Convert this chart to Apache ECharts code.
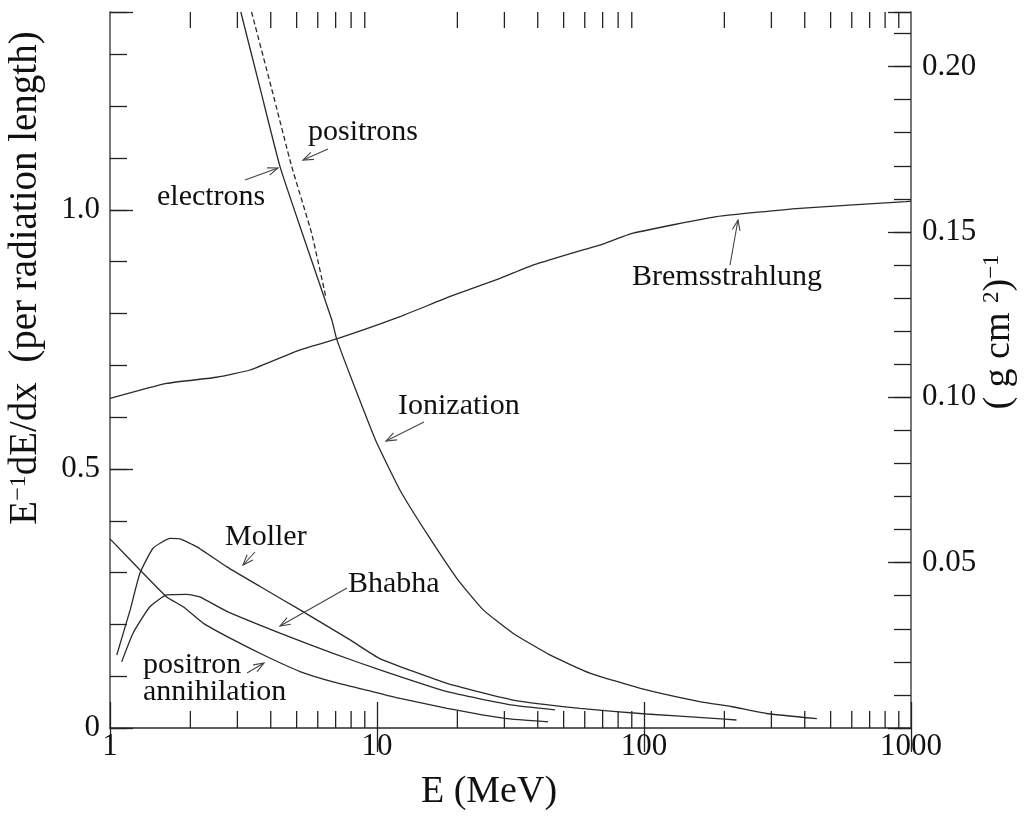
<!DOCTYPE html>
<html><head><meta charset="utf-8">
<script src="https://cdn.jsdelivr.net/npm/echarts@6/dist/echarts.min.js"></script>
<style>html,body{margin:0;padding:0;background:#fff}#c{width:1030px;height:819px}</style>
</head><body><div id="c"></div>
<script>
// ---------------- data ----------------
const xTickValues = [1, 10, 100, 1000];
const xTickLabels = ['1', '10', '100', '1000'];
const xMinorTickValues = [2,3,4,5,6,7,8,9, 20,30,40,50,60,70,80,90, 200,300,400,500,600,700,800,900];
const leftTickValues = [0, 0.5, 1.0];
const leftTickLabels = ['0', '0.5', '1.0'];
const rightTickValues = [0.05, 0.10, 0.15, 0.20];
const rightTickLabels = ['0.05', '0.10', '0.15', '0.20'];

const bremsE = [1, 1.63, 2.51, 3.34, 5.15, 7.06, 12.2, 18.8, 28.9, 38.6, 59.1, 68.4, 91, 187, 383, 957, 1000];
const bremsV = [0.636, 0.665, 0.677, 0.691, 0.730, 0.751, 0.794, 0.833, 0.868, 0.894, 0.923, 0.932, 0.955, 0.987, 1.003, 1.016, 1.017];

const ionElecE = [3.09, 3.66, 4.33, 5.25, 6.77, 7.06, 7.93, 9.91, 12.2, 15.34, 19.9, 25.0, 32.3, 44.4, 62.7, 96.9, 161.6, 214, 287, 444];
const ionElecV = [1.382, 1.232, 1.084, 0.955, 0.788, 0.751, 0.681, 0.554, 0.459, 0.376, 0.289, 0.228, 0.183, 0.141, 0.106, 0.0766, 0.051, 0.041, 0.028, 0.018];

const ionPosE = [3.39, 4.04, 4.79, 5.69, 6.45];
const ionPosV = [1.382, 1.232, 1.084, 0.955, 0.829];

const mollerE = [1.06, 1.19, 1.295, 1.45, 1.68, 1.83, 2.11, 2.74, 3.65, 5.15, 7.93, 10.25, 18.3, 32.3, 57.6, 102, 182, 222];
const mollerV = [0.141, 0.228, 0.299, 0.347, 0.366, 0.365, 0.350, 0.311, 0.273, 0.228, 0.170, 0.134, 0.086, 0.054, 0.038, 0.027, 0.0187, 0.0154];

const bhabhaE = [1.106, 1.22, 1.41, 1.63, 1.94, 2.17, 2.74, 4.33, 6.85, 10.25, 18.3, 32.3, 46.4];
const bhabhaV = [0.128, 0.183, 0.234, 0.257, 0.258, 0.253, 0.225, 0.183, 0.144, 0.112, 0.070, 0.044, 0.035];

const annihE = [1, 1.295, 1.63, 1.88, 2.24, 2.90, 3.86, 5.15, 6.85, 9.14, 12.2, 18.3, 30.1, 43.7];
const annihV = [0.365, 0.305, 0.253, 0.234, 0.202, 0.170, 0.138, 0.109, 0.089, 0.073, 0.057, 0.038, 0.0187, 0.012];

// ---------------- styling ----------------
const FONT = '"Liberation Serif", "DejaVu Serif", serif';
const TXT = '#111';
const LINE = '#2a2a2a';
const FRAME = '#555';
const TICK = '#222';
const pairs = (xs, ys) => xs.map((x, i) => [x, ys[i]]);
const pick = (vals, labs) => v => { const i = vals.findIndex(t => Math.abs(t - v) < 1e-6); return i >= 0 ? labs[i] : ''; };

const chart = echarts.init(document.getElementById('c'), null, {renderer: 'canvas'});

function lineSeries(name, xs, ys, dashed) {
  return {
    name, type: 'line', xAxisIndex: 0, yAxisIndex: 0, data: pairs(xs, ys),
    showSymbol: false, smooth: 0.15, animation: false, silent: true,
    lineStyle: {color: LINE, width: 1.3, type: dashed ? [5, 3] : 'solid'}
  };
}

function arrow(x1, y1, x2, y2) {
  const a = Math.atan2(y2 - y1, x2 - x1), L = 11, w = 0.36;
  const st = {stroke: '#444', lineWidth: 1.1, fill: null};
  return [
    {type: 'line', shape: {x1, y1, x2, y2}, style: st, z: 100},
    {type: 'polyline', shape: {points: [[x2 - L * Math.cos(a - w), y2 - L * Math.sin(a - w)], [x2, y2], [x2 - L * Math.cos(a + w), y2 - L * Math.sin(a + w)]]}, style: st, z: 100}
  ];
}
function label(text, x, y) {
  return {type: 'text', x, y, z: 100, style: {text, font: '30px ' + FONT, fill: TXT, align: 'left', verticalAlign: 'middle'}};
}

const valueAxisBase = {
  type: 'value', min: 0, splitLine: {show: false}
};

const option = {
  animation: false,
  backgroundColor: '#fff',
  grid: {left: 110, right: 119, top: 12, bottom: 91, containLabel: false},
  xAxis: [
    {
      type: 'log', logBase: 10, min: 1, max: 1000, position: 'bottom',
      axisLine: {show: true, lineStyle: {color: FRAME, width: 1.6}},
      axisTick: {show: true, inside: true, length: 26, lineStyle: {color: TICK, width: 1.3}},
      axisLabel: {show: true, margin: 3, fontFamily: FONT, fontSize: 31, color: TXT, formatter: pick(xTickValues, xTickLabels)},
      splitLine: {show: false}, minorTick: {show: false}
    },
    {
      type: 'log', logBase: 10, min: 1, max: 1000, position: 'top',
      axisLine: {show: true, lineStyle: {color: FRAME, width: 1.6}},
      axisTick: {show: true, inside: true, length: 24, lineStyle: {color: TICK, width: 1.3}},
      axisLabel: {show: false}, splitLine: {show: false}
    }
  ],
  yAxis: [
    Object.assign({}, valueAxisBase, {
      position: 'left', max: 1.382, interval: 0.1,
      axisLine: {show: true, lineStyle: {color: FRAME, width: 1.6}},
      axisTick: {show: true, inside: true, length: 17, lineStyle: {color: TICK, width: 1.3}},
      axisLabel: {show: true, margin: 10, fontFamily: FONT, fontSize: 31, color: TXT, formatter: pick(leftTickValues, leftTickLabels)}
    }),
    Object.assign({}, valueAxisBase, {
      position: 'right', max: 0.2165, interval: 0.01,
      axisLine: {show: true, lineStyle: {color: FRAME, width: 1.6}},
      axisTick: {show: true, inside: true, length: 17, lineStyle: {color: TICK, width: 1.3}},
      axisLabel: {show: true, margin: 11, fontFamily: FONT, fontSize: 31, color: TXT, formatter: pick(rightTickValues, rightTickLabels)}
    }),
    Object.assign({}, valueAxisBase, {
      position: 'left', max: 1.382, interval: 0.5,
      axisLine: {show: false}, axisLabel: {show: false},
      axisTick: {show: true, inside: true, length: 23, lineStyle: {color: TICK, width: 1.3}}
    }),
    Object.assign({}, valueAxisBase, {
      position: 'right', max: 0.2165, interval: 0.05,
      axisLine: {show: false}, axisLabel: {show: false},
      axisTick: {show: true, inside: true, length: 23, lineStyle: {color: TICK, width: 1.3}}
    })
  ],
  series: [
    lineSeries('Bremsstrahlung', bremsE, bremsV),
    lineSeries('Ionization (electrons)', ionElecE, ionElecV),
    lineSeries('Ionization (positrons)', ionPosE, ionPosV, true),
    lineSeries('Moller', mollerE, mollerV),
    lineSeries('Bhabha', bhabhaE, bhabhaV),
    lineSeries('Positron annihilation', annihE, annihV),
    {
      name: 'x minor ticks', type: 'custom', xAxisIndex: 0, yAxisIndex: 0, silent: true,
      data: xMinorTickValues.map(v => [v, 0]),
      renderItem: function (params, api) {
        const cs = params.coordSys;
        const px = api.coord([api.value(0), 0])[0];
        const st = {stroke: TICK, lineWidth: 1.3};
        return {type: 'group', children: [
          {type: 'line', shape: {x1: px, y1: cs.y + cs.height, x2: px, y2: cs.y + cs.height - 17}, style: st},
          {type: 'line', shape: {x1: px, y1: cs.y, x2: px, y2: cs.y + 16}, style: st}
        ]};
      }
    }
  ],
  graphic: [
    // axis titles
    {
      type: 'text', x: 26, y: 278, rotation: Math.PI / 2, z: 100,
      style: {
        text: '{a|E}{s|−1}{a|dE/dx  (per radiation length)}', align: 'center', verticalAlign: 'middle',
        rich: {
          a: {fontSize: 39, fontFamily: FONT, fill: TXT, color: TXT, lineHeight: 39, verticalAlign: 'bottom'},
          s: {fontSize: 24, fontFamily: FONT, fill: TXT, color: TXT, lineHeight: 24, verticalAlign: 'top', padding: [0, 0, 26, 0]}
        }
      }
    },
    {
      type: 'text', x: 999, y: 332, rotation: Math.PI / 2, z: 100,
      style: {
        text: '{a|( g cm }{s|2}{a|)}{s|−1}', align: 'center', verticalAlign: 'middle',
        rich: {
          a: {fontSize: 38, fontFamily: FONT, fill: TXT, color: TXT, lineHeight: 38, verticalAlign: 'bottom'},
          s: {fontSize: 23, fontFamily: FONT, fill: TXT, color: TXT, lineHeight: 23, verticalAlign: 'top', padding: [0, 0, 14, 0]}
        }
      }
    },
    {type: 'text', x: 489, y: 792, z: 100, style: {text: 'E (MeV)', font: '38px ' + FONT, fill: TXT, align: 'center', verticalAlign: 'middle'}},
    // annotations
    label('positrons', 308, 132), ...arrow(328, 149, 303, 160),
    label('electrons', 157, 197), ...arrow(245, 180, 278, 168),
    label('Ionization', 398, 406), ...arrow(424, 422, 386, 441),
    label('Bremsstrahlung', 632, 277), ...arrow(730, 265, 738, 220),
    label('Moller', 225, 537), ...arrow(255, 552, 243, 565),
    label('Bhabha', 348, 584), ...arrow(347, 588, 280, 626),
    label('positron', 143, 665), label('annihilation', 143, 692), ...arrow(247, 673, 264, 663)
  ]
};
chart.setOption(option);
</script>
</body></html>
